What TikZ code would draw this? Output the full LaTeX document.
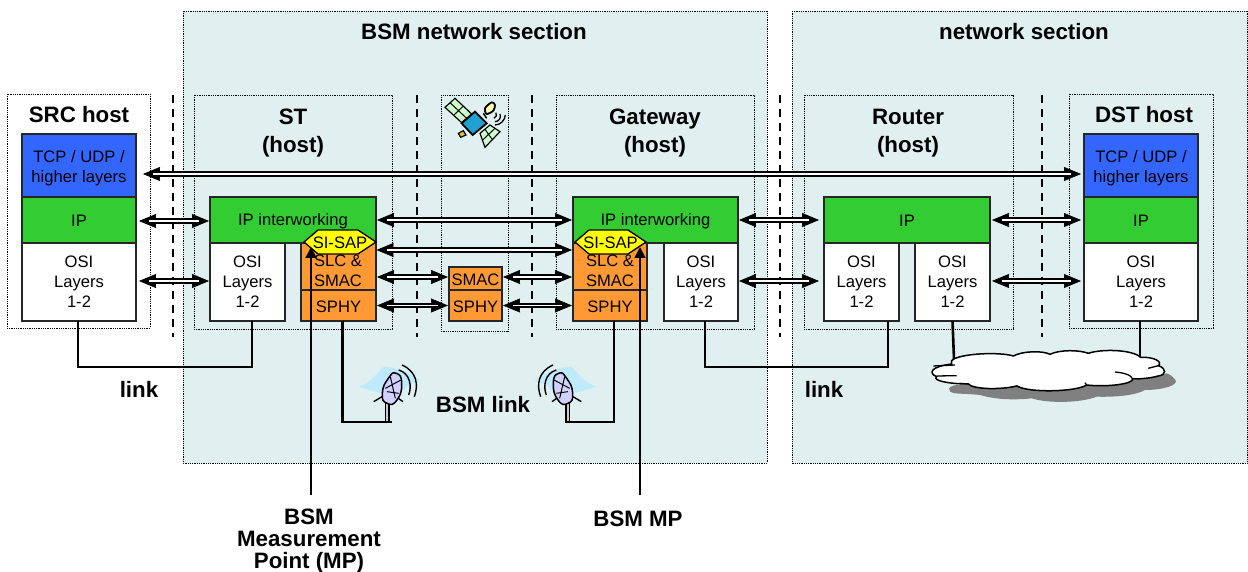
\documentclass[tikz,border=0pt]{standalone}
\usepackage{fontspec}
\setmainfont{Liberation Sans}
\usetikzlibrary{arrows.meta,shapes.geometric,calc}
\definecolor{sec}{HTML}{E0F0F0}
\definecolor{tcpblue}{HTML}{3366FF}
\definecolor{ipgreen}{HTML}{33CC33}
\definecolor{orng}{HTML}{FF9933}
\definecolor{yel}{HTML}{FFFF00}
\tikzset{
 every node/.style={font=\fontsize{16.6}{20}\selectfont,align=center,inner sep=0pt,outer sep=0pt,execute at begin node={\rule{0pt}{14pt}}},
 section/.style={draw=black,densely dotted,line width=0.8pt,fill=sec},
 hostbox/.style={draw=black,densely dotted,line width=0.8pt},
 sep/.style={draw=black,line width=1.5pt,dash pattern=on 8pt off 6pt},
 layer/.style={draw=black!85,line width=1.5pt,anchor=north west},
 title/.style={font=\fontsize{22.3}{28}\selectfont\bfseries},
 titletight/.style={font=\fontsize{22.3}{22}\selectfont\bfseries},
 dbl/.style={line width=0.6pt,{Stealth[length=17pt,width=14pt,inset=0.5pt]}-{Stealth[length=17pt,width=14pt,inset=0.5pt]},
   postaction={draw,-,double,double distance=1.4pt,line width=1.9pt,shorten >=10pt,shorten <=10pt}},
 linkline/.style={line width=2.6pt,line join=miter},
 mp/.style={line width=1.6pt,-{Stealth[length=11pt,width=11pt,inset=0pt]}},
 lay/.style 2 args={layer,minimum width=#1pt,minimum height=#2pt},
}
\newcommand{\dishart}[2]{%
\begin{scope}[shift={(#1)},x=#2*0.3333pt,y=-0.3333pt]
 \fill[cyan!25] (-85,-10) .. controls (-50,-20) and (-30,-50) .. (-10,-70) .. controls (40,-70) and (80,-40) .. (100,-30) .. controls (70,-20) and (50,-5) .. (40,10) .. controls (0,20) and (-50,0) .. (-85,-10) -- cycle;
 \draw[line width=1.5pt,fill=black!20] (-4,40) rectangle (6,95);
 \draw[line width=1.4pt] (20,15) -- (48,35);
 \draw[line width=1.4pt] (-15,20) -- (-40,35);
 \draw[line width=1.5pt,fill=blue!18] plot[smooth cycle,tension=1] coordinates {(28,-50) (44,-20) (30,30) (0,40) (-14,10) (4,-35)};
 \draw[line width=1pt] (-5,-5) -- (42,-30) (10,-40) -- (25,25) (0,5) -- (35,10);
 \draw[line width=1.4pt] (35,-60) .. controls (70,-50) and (75,-10) .. (65,15);
 \draw[line width=1.4pt] (45,-75) .. controls (90,-55) and (95,-15) .. (82,20);
\end{scope}}
\begin{document}
\begin{tikzpicture}[x=1pt,y=-1pt]
\useasboundingbox (0,0) rectangle (1248,572);
\fill[white] (0,0) rectangle (1248,572);
% sections
\draw[section] (183,11) rectangle (767,463);
\draw[section] (792,11) -- (1247.5,11) -- (1247.5,463) -- (792,463) -- cycle;
% hosts
\draw[hostbox] (7,94) rectangle (150,328);
\draw[hostbox] (194,95) rectangle (392,329);
\draw[hostbox] (441,95) rectangle (508,331);
\draw[hostbox] (556,95) rectangle (754,329);
\draw[hostbox] (804,95) rectangle (1013,329);
\draw[hostbox] (1069,94) rectangle (1213,328);
% boundaries
\foreach \x in {173,417,532,780,1042} \draw[sep] (\x,95) -- (\x,337);
% titles
\node[title] (t1) at (474,32) {BSM network section};
\node[title] (t2) at (1024,32) {network section};
\node[title] (t3) at (79,115) {SRC host};
\node[title] (t4) at (293,133) {ST\\(host)};
\node[title] (t5) at (655,133) {Gateway\\(host)};
\node[title] (t6) at (908,133) {Router\\(host)};
\node[title] (t7) at (1144,115) {DST host};
% SRC
\node[lay={114}{63},fill=tcpblue] (tcpa) at (22,134) {\rule{0pt}{17pt}TCP / UDP /\\higher layers};
\node[lay={114}{46},fill=ipgreen] (ipa) at (22,197) {IP};
\node[lay={114}{78},fill=white] (osia) at (22,243) {OSI\\Layers\\1-2};
% ST
\node[lay={166}{46},fill=ipgreen] (ipb) at (210,197) {IP interworking};
\node[lay={75}{78},fill=white] (osib) at (210,243) {OSI\\Layers\\1-2};
\node[lay={75}{47},fill=orng] (slcb) at (301,243) {};
\node[lay={75}{31},fill=orng] (sphyb) at (301,290) {SPHY};
\node (slcbt) at (338,271) {SLC \&\\SMAC};
\coordinate (hb) at (340,242);
\draw[line width=1.3pt,fill=yel] (304,242) -- (318,230) -- (358,230) -- (376,242) -- (358,254) -- (318,254) -- cycle;
\node (sapb) at (hb) {SI-SAP};
% satellite
\node[lay={53}{23},fill=orng] (smacc) at (449,267) {SMAC};
\node[lay={53}{31},fill=orng] (sphyc) at (449,290) {SPHY};
% Gateway
\node[lay={165}{46},fill=ipgreen] (ipd) at (573,197) {IP interworking};
\node[lay={74}{47},fill=orng] (slcd) at (573,243) {};
\node[lay={74}{31},fill=orng] (sphyd) at (573,290) {SPHY};
\node[lay={74}{78},fill=white] (osid) at (664,243) {OSI\\Layers\\1-2};
\node (slcdt) at (610,271) {SLC \&\\SMAC};
\coordinate (hd) at (610.5,242);
\draw[line width=1.3pt,fill=yel] (575,242) -- (589,230) -- (628,230) -- (646,242) -- (628,254) -- (589,254) -- cycle;
\node (sapd) at (hd) {SI-SAP};
% Router
\node[lay={166}{46},fill=ipgreen] (ipe) at (824,197) {IP};
\node[lay={75}{78},fill=white] (osie) at (824,243) {OSI\\Layers\\1-2};
\node[lay={75}{78},fill=white] (osif) at (915,243) {OSI\\Layers\\1-2};
% DST
\node[lay={114}{63},fill=tcpblue] (tcpg) at (1084,134) {\rule{0pt}{17pt}TCP / UDP /\\higher layers};
\node[lay={114}{46},fill=ipgreen] (ipg) at (1084,197) {IP};
\node[lay={114}{78},fill=white] (osig) at (1084,243) {OSI\\Layers\\1-2};
% double arrows
\draw[dbl] ([xshift=7pt,yshift=-8.5pt]tcpa.east) -- ([xshift=-3pt,yshift=-8.5pt]tcpg.west);
\draw[dbl] ([xshift=3pt,yshift=-1pt]ipa.east) -- ([xshift=-1pt,yshift=-1pt]ipb.west);
\draw[dbl] ([xshift=3pt,yshift=1pt]osia.east) -- ([xshift=-1pt,yshift=1pt]osib.west);
\draw[dbl] ([xshift=1pt]ipb.east) -- ([xshift=-1pt]ipd.west);
\draw[dbl] (376.5,250) -- (572,250);
\draw[dbl] ([xshift=1pt,yshift=-10.5pt]slcb.east) -- ([xshift=-1pt,yshift=1.5pt]smacc.west);
\draw[dbl] ([xshift=1pt,yshift=1.5pt]smacc.east) -- ([xshift=-1pt,yshift=-10.5pt]slcd.west);
\draw[dbl] ([xshift=1pt]sphyb.east) -- ([xshift=-1pt]sphyc.west);
\draw[dbl] ([xshift=1pt]sphyc.east) -- ([xshift=-1pt]sphyd.west);
\draw[dbl] ([xshift=1pt]ipd.east) -- ([xshift=-5pt]ipe.west);
\draw[dbl] ([xshift=1pt,yshift=1pt]osid.east) -- ([xshift=-5pt,yshift=1pt]osie.west);
\draw[dbl] ([xshift=2pt]ipe.east) -- ([xshift=-3pt]ipg.west);
\draw[dbl] ([xshift=2pt,yshift=1pt]osif.east) -- ([xshift=-3pt,yshift=1pt]osig.west);
% links under cloud
\draw[linkline] (osif.south) -- (954,359);
\draw[linkline] ([xshift=-1pt]osig.south) -- (1140,356);
% cloud
\begin{scope}[shift={(900,310)},x=0.3333pt,y=-0.3333pt]
 \fill[black!50] (175,225) .. controls (145,225) and (135,245) .. (165,250) .. controls (190,252) and (215,252) .. (240,255) .. controls (290,270) and (350,270) .. (395,265) .. controls (440,280) and (540,280) .. (590,260) .. controls (650,262) and (710,255) .. (735,240) .. controls (790,240) and (840,225) .. (825,208) .. controls (820,198) and (810,195) .. (800,190) -- (700,210) -- (300,225) -- cycle;
 \path[draw=black,line width=1.5pt,fill=white] (155,152)
  .. controls (175,130) and (300,125) .. (340,138)
  .. controls (370,122) and (430,122) .. (450,133)
  .. controls (480,118) and (540,120) .. (565,130)
  .. controls (610,115) and (700,120) .. (722,142)
  .. controls (760,140) and (790,155) .. (775,167)
  .. controls (800,175) and (800,195) .. (775,198)
  .. controls (750,205) and (720,207) .. (698,207)
  .. controls (700,222) and (620,232) .. (560,225)
  .. controls (530,245) and (390,250) .. (350,228)
  .. controls (300,240) and (220,238) .. (205,222)
  .. controls (150,222) and (95,212) .. (110,200)
  .. controls (85,190) and (90,170) .. (155,162)
  -- cycle;
 \draw[line width=1.3pt] (645,186) .. controls (670,188) and (695,195) .. (698,207);
 \draw[line width=1.3pt] (100,168) -- (165,165) (110,198) -- (170,197) (745,175) -- (775,167);
 \draw[line width=1.3pt] (205,222) -- (180,220) (350,228) -- (360,232) (560,225) -- (555,218);
\end{scope}
% links
\draw[linkline] ([xshift=-1pt]osia.south) -- ++(0,46) -| ([xshift=4.5pt]osib.south);
\coordinate (anta) at (392,422);
\coordinate (antb) at (565,422);
\draw[linkline] ([xshift=4pt]sphyb.south) |- (anta);
\draw[linkline] ([xshift=4pt]sphyd.south) |- (antb);
\draw[linkline] ([xshift=4pt]osid.south) -- ++(0,46) -| ([xshift=26.5pt]osie.south);
% measurement
\node[titletight] (bsmmp) at (309,541) {BSM\\Measurement\\Point (MP)};
\node[titletight] (bsmmp2) at (638,519) {BSM MP};
\coordinate (mpa) at (311,495);
\coordinate (mpb) at (640,495);
\draw[mp] (mpa) -- (311,247);
\draw[mp] (mpb) -- (640,247);
% labels
\node[titletight] (l1) at (139,389) {link};
\node[titletight] (l2) at (824,389) {link};
\node[titletight] (l3) at (483,405) {BSM link};
% dishes
\dishart{387,390}{1}
\dishart{568,390}{-1}
% satellite art
\begin{scope}[shift={(430,90)},x=0.3333pt,y=-0.3333pt]
 \draw[line width=1.2pt,fill=green!20] (45,52) -- (75,25) -- (125,72) -- (95,98) -- cycle;
 \draw[line width=1pt] (60,38) -- (110,85) (72,75) -- (100,48);
 \draw[line width=1.2pt,fill=green!20] (150,130) -- (180,105) -- (210,125) -- (165,172) -- cycle;
 \draw[line width=1pt] (165,118) -- (188,150) (158,150) -- (195,115);
 \draw[line width=1.2pt,fill=yellow!50!brown] (85,130) -- (100,122) -- (108,135) -- (92,142) -- cycle;
 \draw[line width=1.8pt,fill=cyan!85!black] (95,100) -- (135,65) -- (170,100) -- (128,135) -- cycle;
 \draw[line width=1.4pt] (160,70) -- (170,85);
 \draw[line width=1.8pt,fill=yellow!30] plot[smooth cycle] coordinates {(170,72) (165,55) (185,37) (195,45) (190,62)};
 \draw[line width=1.3pt] (198,68) .. controls (200,75) and (200,82) .. (192,85);
 \draw[line width=1.3pt] (210,72) .. controls (215,85) and (205,95) .. (195,95);
 \draw[line width=1.3pt] (226,75) .. controls (225,92) and (210,105) .. (195,105);
\end{scope}
\end{tikzpicture}
\end{document}
